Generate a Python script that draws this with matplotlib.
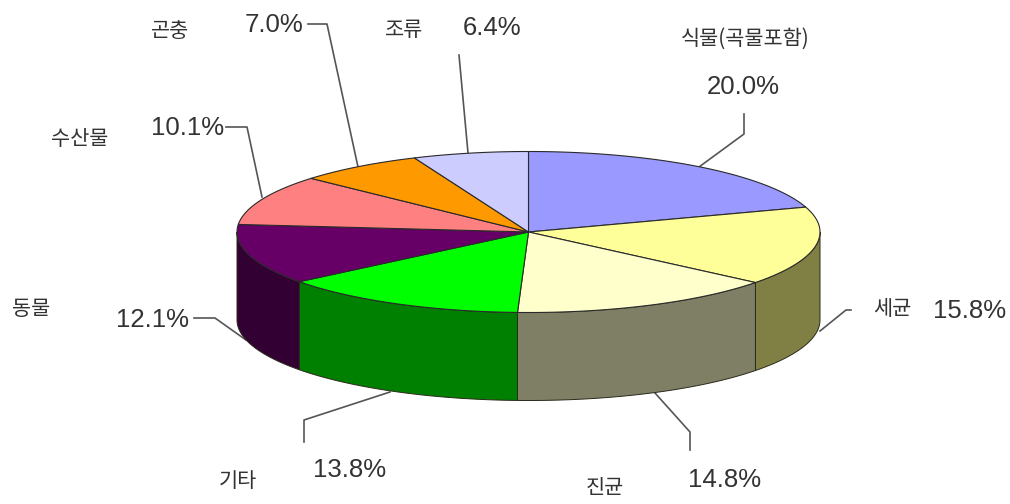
import numpy as np
import matplotlib
matplotlib.use("Agg")
import matplotlib.pyplot as plt
from matplotlib.patches import Polygon

plt.rcParams['font.family'] = ['Liberation Sans', 'Noto Sans CJK KR', 'DejaVu Sans']

# Share of each source, clockwise from twelve o'clock
categories = ['식물(곡물포함)', '세균', '진균', '기타', '동물', '수산물', '곤충', '조류']
shares = [20.0, 15.8, 14.8, 13.8, 12.1, 10.1, 7.0, 6.4]
top_colors = ['#9999FF', '#FFFF99', '#FFFFCC', '#00FF00', '#660066', '#FF8080', '#FF9900', '#CCCCFF']
side_colors = ['#4C4C80', '#808044', '#7F7F66', '#008000', '#330033', '#804040', '#804C00', '#666680']

# Pie geometry in pixels
CX, CY, RX, RY, DEPTH = 528.5, 232.0, 291.5, 80.5, 88.0

# Label anchors: name position, percentage position, leader polyline
name_pos = [(745, 39), (892, 309), (605, 488), (238, 481), (31, 309), (80, 139), (170, 31), (404, 30)]
pct_pos = [(743, 87), (970, 311), (725, 480), (350, 470), (152, 320), (188, 128), (274, 25), (492, 28)]
leaders = [
    [(699, 167), (744, 134), (744, 114)],
    [(820, 331), (846, 310), (851, 310)],
    [(655, 393), (690, 432), (690, 450)],
    [(390, 392), (304, 420), (304, 442)],
    [(194, 318), (215, 318), (246, 340)],
    [(226, 127), (247, 127), (262, 197)],
    [(308, 24), (327, 24), (358, 167)],
    [(459, 55), (468, 153)],
]


def rim(t, dy=0.0):
    """Points on the pie rim for clockwise angles t in degrees."""
    r = np.radians(t)
    return np.column_stack((CX + RX * np.sin(r), CY - RY * np.cos(r) + dy))


fig = plt.figure(figsize=(10.10, 5.04), dpi=100, facecolor='white')
ax = fig.add_axes([0, 0, 1, 1])
ax.set_xlim(0, 1010)
ax.set_ylim(504, 0)
ax.axis('off')

edges = np.concatenate(([0.0], np.cumsum(shares))) * 3.6

# Outer wall: only the front half of the rim is visible
for i, col in enumerate(side_colors):
    a, b = max(edges[i], 90.0), min(edges[i + 1], 270.0)
    if a >= b:
        continue
    t = np.linspace(a, b, 80)
    pts = np.vstack((rim(t), rim(t[::-1], DEPTH)))
    ax.add_patch(Polygon(pts, closed=True, facecolor=col, edgecolor='#2a2a1a', linewidth=0.7, zorder=2))

# Top face
for i, col in enumerate(top_colors):
    t = np.linspace(edges[i], edges[i + 1], 120)
    pts = np.vstack(([[CX, CY]], rim(t)))
    ax.add_patch(Polygon(pts, closed=True, facecolor=col, edgecolor='#2a2a2a', linewidth=0.8, zorder=3))

# Leader lines and labels
for name, share, np_, pp, path in zip(categories, shares, name_pos, pct_pos, leaders):
    xs, ys = zip(*path)
    ax.plot(xs, ys, color='#555555', linewidth=1.2, zorder=1)
    ax.text(*pp, f'{share:.1f}%', fontsize=18.5, color='#333333', ha='center', va='center', zorder=4)
    ax.text(*np_, name, fontsize=15, color='#333333', ha='center', va='center',
            family=['Noto Sans CJK KR', 'DejaVu Sans'], zorder=4)

fig.savefig('out.png', dpi=100, facecolor='white')
